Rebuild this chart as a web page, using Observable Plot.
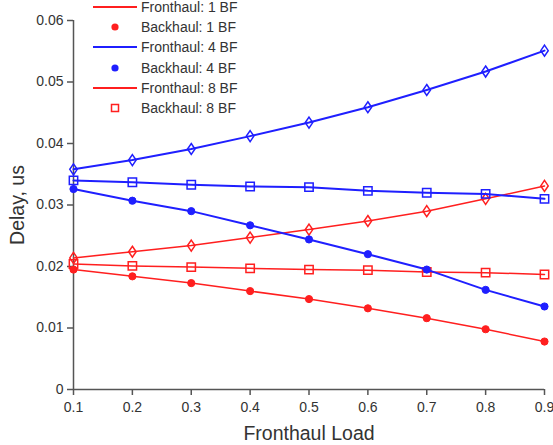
<!DOCTYPE html>
<html><head><meta charset="utf-8">
<script src="https://cdn.jsdelivr.net/npm/d3@7"></script>
<script src="https://cdn.jsdelivr.net/npm/@observablehq/plot@0.6"></script>
<style>
body{margin:0;background:#fff;font-family:"Liberation Sans",Arial,sans-serif;}
#wrap{position:relative;width:553px;height:445px;overflow:hidden;}
#legend{position:absolute;left:0;top:0;}
.row{position:absolute;left:90px;height:20px;display:flex;align-items:center;font-size:14px;color:#333;white-space:nowrap;}
.row svg{margin-right:1px;}
</style></head>
<body><div id="wrap"><div id="chart"></div><div id="legend"></div></div>
<script>
const loads = [0.1,0.2,0.3,0.4,0.5,0.6,0.7,0.8,0.9];
const redDiamond  = [0.0214,0.0224,0.0234,0.0247,0.0260,0.0274,0.0290,0.0310,0.0331];
const redSquare   = [0.0204,0.0201,0.0199,0.0197,0.0195,0.0194,0.0191,0.0190,0.0187];
const redFilled   = [0.0195,0.0184,0.0173,0.0160,0.0147,0.0132,0.0116,0.0098,0.0078];
const blueDiamond = [0.0358,0.0373,0.0391,0.0412,0.0434,0.0459,0.0487,0.0517,0.0551];
const blueSquare  = [0.0340,0.0337,0.0333,0.0330,0.0329,0.0323,0.0320,0.0318,0.0310];
const blueFilled  = [0.0326,0.0307,0.0290,0.0267,0.0244,0.0220,0.0195,0.0162,0.0135];
const yTicks = [0,0.01,0.02,0.03,0.04,0.05,0.06];
const xTicks = [0.1,0.2,0.3,0.4,0.5,0.6,0.7,0.8,0.9];
const legendLabels = ["Fronthaul: 1 BF","Backhaul: 1 BF","Fronthaul: 4 BF","Backhaul: 4 BF","Fronthaul: 8 BF","Backhaul: 8 BF"];
const yLabel = "Delay, us", xLabel = "Fronthaul Load";

const RED = "#ff1f1f", BLUE = "#1f1fff";
const diamond = {draw(ctx, size){const r=Math.sqrt(size/Math.PI);const h=1.25*r,w=0.85*r;ctx.moveTo(0,-h);ctx.lineTo(w,0);ctx.lineTo(0,h);ctx.lineTo(-w,0);ctx.closePath();}};
const square = {draw(ctx, size){const r=Math.sqrt(size/Math.PI)*0.95;ctx.rect(-r,-r,2*r,2*r);}};

const series = [
  {vals: redDiamond, color: RED, kind: "diamond", sw: 1.5},
  {vals: redSquare, color: RED, kind: "square", sw: 1.5},
  {vals: redFilled, color: RED, kind: "filled", sw: 1.5},
  {vals: blueDiamond, color: BLUE, kind: "diamond", sw: 2},
  {vals: blueSquare, color: BLUE, kind: "square", sw: 2},
  {vals: blueFilled, color: BLUE, kind: "filled", sw: 2},
];

const marks = [];
for (const s of series) {
  const data = loads.map((x,i)=>({x, y: s.vals[i]}));
  marks.push(Plot.line(data, {x:"x", y:"y", stroke: s.color, strokeWidth: s.sw}));
  if (s.kind === "filled") marks.push(Plot.dot(data, {x:"x", y:"y", r:3.6, fill: s.color, stroke: s.color, strokeWidth:1}));
  else marks.push(Plot.dot(data, {x:"x", y:"y", r:4.4, symbol: s.kind==="diamond"?diamond:square, stroke: s.color, fill:"none", strokeWidth:1.5}));
}

const plot = Plot.plot({
  width: 553, height: 445,
  marginLeft: 73, marginRight: 9, marginTop: 20, marginBottom: 56,
  style: {fontFamily: '"Liberation Sans", Arial, sans-serif', fontSize: "14px", color: "#333", background: "#fff", overflow: "visible"},
  x: {domain: [0.1, 0.9]},
  y: {domain: [0, 0.06]},
  marks: [
    Plot.axisY(yTicks, {tickSize: 6, tickPadding: 4, stroke: "#555", strokeWidth: 1.5, fontSize: 14, fill: "#333",
      tickFormat: d => d === 0 ? "0" : d.toFixed(2),
      label: yLabel, labelAnchor: "center", labelOffset: 63, labelArrow: false}),
    Plot.axisX(xTicks, {tickSize: 6, tickPadding: 7, stroke: "#555", strokeWidth: 1.5, fontSize: 14, fill: "#333",
      tickFormat: d => d.toFixed(1),
      label: xLabel, labelAnchor: "center", labelOffset: 50, labelArrow: false}),
    Plot.ruleX([0.1], {stroke: "#555", strokeWidth: 1.5}),
    Plot.ruleY([0], {stroke: "#555", strokeWidth: 1.5}),
    ...marks
  ]
});
plot.querySelectorAll("text").forEach(t=>{
  if (t.textContent === yLabel || t.textContent === xLabel) { t.setAttribute("font-size","19.5"); t.style.fontSize="19.5px"; }
});
document.getElementById("chart").appendChild(plot);

// legend
const legend = document.getElementById("legend");
const legKinds = [["line",RED],["dot",RED],["line",BLUE],["dot",BLUE],["line",RED],["square",RED]];
const rowY = [6.5,27,47,68,88,108];
legendLabels.forEach((lab,i)=>{
  const [k,c] = legKinds[i];
  const row = document.createElement("div");
  row.className = "row";
  row.style.top = (rowY[i]-10)+"px";
  let sw = "";
  if (k==="line") sw = `<line x1="3" x2="47" y1="10" y2="10" stroke="${c}" stroke-width="2"/>`;
  else if (k==="dot") sw = `<circle cx="25" cy="10" r="3.6" fill="${c}"/>`;
  else sw = `<rect x="21.5" y="6.5" width="7" height="7" fill="none" stroke="${c}" stroke-width="1.5"/>`;
  row.innerHTML = `<svg width="50" height="20">${sw}</svg><span>${lab}</span>`;
  legend.appendChild(row);
});
</script></body></html>
